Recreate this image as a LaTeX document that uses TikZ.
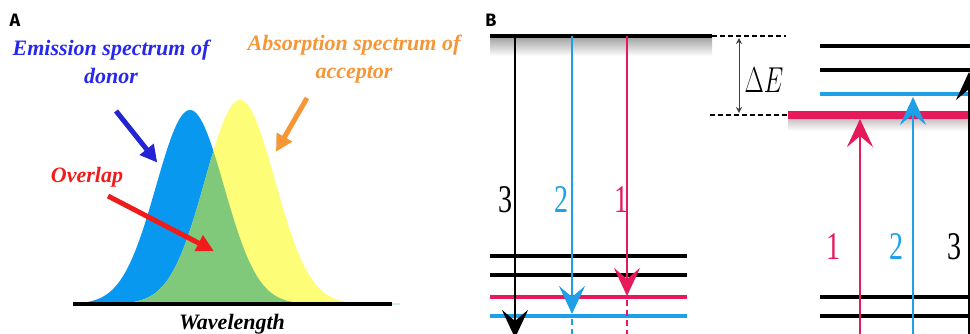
\documentclass[tikz,border=0pt]{standalone}
\usepackage{fontspec}
\usepackage{graphicx}
\setmainfont{Liberation Serif}
\newfontfamily\panelfont{Fira Sans}
\usetikzlibrary{arrows.meta}
\definecolor{cblue}{RGB}{8,152,240}
\definecolor{cyellow}{RGB}{253,253,120}
\definecolor{cgreen}{RGB}{128,200,122}
\definecolor{tblue}{RGB}{40,40,235}
\definecolor{torange}{RGB}{245,150,55}
\definecolor{tred}{RGB}{240,28,28}
\definecolor{fblue}{RGB}{30,160,230}
\definecolor{fred}{RGB}{230,25,90}
\tikzset{
  panel/.style={font=\panelfont\bfseries\fontsize{18}{18}\selectfont, inner sep=0pt},
  spec/.style={font=\bfseries\itshape\fontsize{22}{28}\selectfont, align=center, inner sep=0pt},
  fatarrow/.style={line width=5pt, -{Triangle[length=17pt,width=17pt]}, shorten >=-2pt},
  lvl/.style={line width=3.8pt},
  vline/.style={line width=2.8pt},
  spear/.style={-{Stealth[length=28pt,width=26pt,inset=11pt]}},
  num/.style={font=\fontsize{28}{28}\selectfont, inner sep=0pt},
  fine/.style={line width=1pt, dash pattern=on 5pt off 3pt}
}
\begin{document}
\begin{tikzpicture}[x=1pt,y=-1pt]
\useasboundingbox (0,0) rectangle (970,334);
\clip (0,0) rectangle (970,334);

% ---------------- Panel A ----------------
\node[panel] (labA) at (15,20) {A};
\node[spec, text=tblue] (em) at (111,62) {Emission spectrum of\\donor};
\node[spec, text=torange] (ab) at (354,59) {Absorption spectrum of\\acceptor};

\fill[cblue] (80,304) -- plot[domain=80:400, samples=160]
  (\x, {304-194*exp(-((\x-190)/34)*((\x-190)/34)/2)}) -- (400,304) -- cycle;
\fill[cyellow] (80,304) -- plot[domain=80:400, samples=160]
  (\x, {304-204*exp(-((\x-240)/35)*((\x-240)/35)/2)}) -- (400,304) -- cycle;
\fill[cgreen] (80,304) -- plot[domain=80:400, samples=200]
  (\x, {304-min(194*exp(-((\x-190)/34)*((\x-190)/34)/2),204*exp(-((\x-240)/35)*((\x-240)/35)/2))}) -- (400,304) -- cycle;

\draw[line width=4pt] (73,304) coordinate (axl) -- (392,304) coordinate (axr);
\node[spec] (wl) at (232,324) {Wavelength};
\node[spec, text=tred] (ov) at (87,177) {Overlap};

\coordinate (b1) at (116,111); \coordinate (b2) at (156,161);
\coordinate (o1) at (307,98);  \coordinate (o2) at (277,150);
\coordinate (r1) at (108,196); \coordinate (r2) at (212,250);
\draw[fatarrow, tblue!90!black] (b1) -- (b2);
\draw[fatarrow, torange] (o1) -- (o2);
\draw[fatarrow, tred] (r1) -- (r2);

% ---------------- Panel B ----------------
\node[panel] (labB) at (491,20) {B};

% shadows
\shade[top color=black!35, bottom color=white] (490,38) rectangle (712,56);
\shade[top color=fred!20!black!25, bottom color=white] (788,119) rectangle (975,131);

% top level
\draw[lvl] (490,36) coordinate (tl) -- (712,36) coordinate (tr);
\draw[fine, line width=1.4pt] (tr) -- (786,36) coordinate (td);
\draw[fine, line width=1.4pt] (710,115) coordinate (ld) -- (788,115) coordinate (lr);
\draw[line width=0.8pt, black!75, {Stealth[length=6pt,width=6pt]}-{Stealth[length=6pt,width=6pt]}] (739,38) coordinate (de1) -- (739,113) coordinate (de2);
\node[inner sep=0pt] (dE) at (764,80) {\scalebox{1}[1.45]{\fontsize{23}{23}\selectfont$\Delta E$}};

% left bottom levels
\draw[lvl] (490,256) -- (687,256);
\draw[lvl] (490,275) -- (687,275);
\draw[lvl, fred] (490,297) coordinate (lred) -- (687,297);
\draw[lvl, fblue] (490,316) coordinate (lblue) -- (687,316);

% left downward arrows
\coordinate (d3a) at (515,36);  \coordinate (d3b) at (515,338);
\coordinate (d2a) at (572,36);  \coordinate (d2b) at (572,314);
\coordinate (d1a) at (627,36);  \coordinate (d1b) at (627,296);
\draw[vline, spear] (d3a) -- (d3b);
\draw[vline, fblue, spear] (d2a) -- (d2b);
\draw[vline, fred, spear] (d1a) -- (d1b);
\draw[fblue, line width=1.2pt, dash pattern=on 6pt off 4pt] (572,319) -- (572,334);
\draw[fred, line width=1.2pt, dash pattern=on 6pt off 4pt] (627,300) -- (627,334);

\node[num] (n3l) at (505,200) {\scalebox{1}[1.4]{3}};
\node[num, text=fblue] (n2l) at (561,200) {\scalebox{1}[1.4]{2}};
\node[num, text=fred] (n1l) at (621,200) {\scalebox{1}[1.4]{1}};

% right levels
\draw[line width=8pt, fred] (788,115) coordinate (rr) -- (975,115);
\draw[lvl] (820,46) -- (975,46);
\draw[lvl] (820,70) -- (975,70);
\draw[lvl, fblue] (820,94) -- (975,94);
\draw[lvl] (820,297) -- (975,297);
\draw[lvl] (820,316) -- (975,316);

% right upward arrows
\coordinate (u1a) at (860,340); \coordinate (u1b) at (860,119);
\coordinate (u2a) at (913,340); \coordinate (u2b) at (913,97);
\coordinate (u3a) at (969,340); \coordinate (u3b) at (969,72);
\draw[vline, fred, spear] (u1a) -- (u1b);
\draw[vline, fblue, spear] (u2a) -- (u2b);
\draw[vline, spear] (u3a) -- (u3b);

\node[num, text=fred] (n1r) at (833,247) {\scalebox{1}[1.4]{1}};
\node[num, text=fblue] (n2r) at (896,247) {\scalebox{1}[1.4]{2}};
\node[num] (n3r) at (954,247) {\scalebox{1}[1.4]{3}};
\end{tikzpicture}
\end{document}
